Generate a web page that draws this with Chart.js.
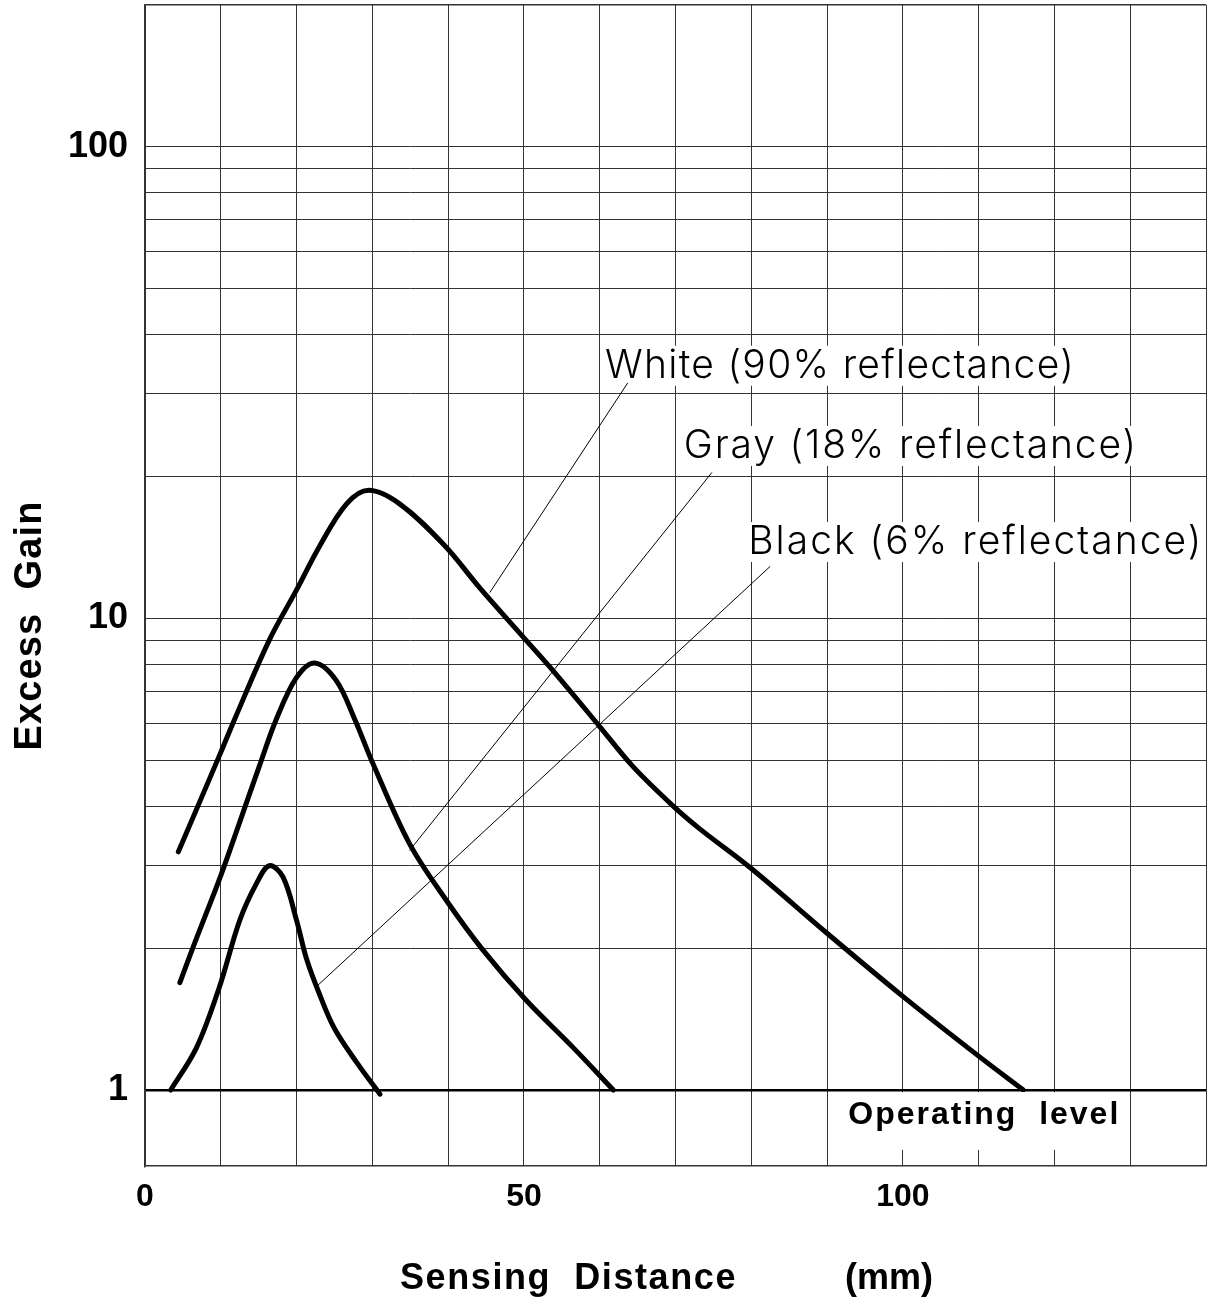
<!DOCTYPE html>
<html>
<head>
<meta charset="utf-8">
<script src="https://cdn.jsdelivr.net/npm/chart.js@4.4.0/dist/chart.umd.min.js"></script>
<style>
    html, body { margin: 0; padding: 0; background: #fff; }
    #wrap { width: 1213px; height: 1301px; position: relative; }
</style>
</head>
<body>
<div id="wrap"><canvas id="gainChart"></canvas></div>
<script>
// --- DATA ---

// White, 90% reflectance
const whiteDist = [4.4, 10, 11.8, 16.4, 20, 23, 26.6, 29.5, 33.6, 39.5, 44.2, 50, 54, 60, 64.4, 69.7, 73.2, 80, 90, 100, 110, 115.9];
const whiteGain = [3.2, 5.2, 6.1, 9.0, 11.5, 14.2, 17.5, 18.7, 17.5, 14.3, 11.6, 9.1, 7.7, 5.9, 4.85, 4.0, 3.58, 2.95, 2.15, 1.58, 1.18, 1.0];

// Gray, 18% reflectance
const grayDist = [4.6, 6.3, 10, 12.5, 15.1, 17.3, 20, 22.4, 25.2, 27.7, 29.9, 34.9, 39.8, 44.6, 50.3, 56.5, 61.8];
const grayGain = [1.69, 2.0, 2.85, 3.7, 4.87, 6.1, 7.5, 8.05, 7.4, 6.1, 5.0, 3.33, 2.52, 1.98, 1.55, 1.23, 1.0];

// Black, 6% reflectance
const blackDist = [3.4, 6.8, 9.8, 12.5, 14.7, 16.4, 18.2, 20.0, 21.3, 23.0, 25.0, 28.0, 31.0];
const blackGain = [1.0, 1.23, 1.65, 2.29, 2.74, 2.99, 2.83, 2.29, 1.9, 1.6, 1.35, 1.14, 0.98];

// axes
const xGrid = [0, 10, 20, 30, 40, 50, 60, 70, 80, 90, 100, 110, 120, 130, 140];
const xLabels = [0, 50, 100];
const yGrid = [1, 2, 3, 4, 5, 6, 7, 8, 9, 10, 20, 30, 40, 50, 60, 70, 80, 90, 100, 200];
const yLabels = [1, 10, 100];

// callouts: text, where the text sits, and the leader line (data units)
const calloutText = ['White (90% reflectance)', 'Gray (18% reflectance)', 'Black (6% reflectance)'];
const calloutDist = [60.7, 71.1, 79.6];
const calloutGain = [32.4, 21.9, 13.7];
const leaderFromDist = [63.7, 74.8, 82.5];
const leaderFromGain = [31.6, 20.4, 12.9];
const leaderToDist = [45.5, 34.9, 22.8];
const leaderToGain = [11.35, 3.22, 1.667];

// --- STYLE ---
const BOLD = '"Liberation Sans", Arial, sans-serif';
const THIN = 'Inter, "Noto Sans", sans-serif';
const calloutWidth = [470, 454, 455];

function toPoints(xs, ys) {
    return xs.map((v, i) => ({ x: v, y: ys[i] }));
}

function curve(xs, ys) {
    return {
        data: toPoints(xs, ys),
        borderColor: '#000',
        borderWidth: 5,
        borderCapStyle: 'round',
        borderJoinStyle: 'round',
        pointRadius: 0,
        tension: 0.35,
        fill: false
    };
}

// spread letters so the text covers a given width
function fitText(ctx, text, width) {
    ctx.letterSpacing = '0px';
    const w = ctx.measureText(text).width;
    ctx.letterSpacing = ((width - w) / text.length) + 'px';
}

const overlay = {
    id: 'overlay',
    afterDatasetsDraw(chart) {
        const { ctx, chartArea, scales: { x, y } } = chart;
        ctx.save();

        // callout labels
        ctx.font = '300 39px ' + THIN;
        ctx.textBaseline = 'alphabetic';
        ctx.textAlign = 'left';
        calloutText.forEach((t, i) => {
            const px = x.getPixelForValue(calloutDist[i]);
            const py = y.getPixelForValue(calloutGain[i]);
            fitText(ctx, t, calloutWidth[i]);
            ctx.fillStyle = '#fff';
            ctx.fillRect(px - 3, py - 32, calloutWidth[i] + 3, 40);
            ctx.fillStyle = '#000';
            ctx.fillText(t, px, py);
        });

        // leader lines
        ctx.strokeStyle = '#000';
        ctx.lineWidth = 1;
        calloutText.forEach((t, i) => {
            ctx.beginPath();
            ctx.moveTo(x.getPixelForValue(leaderFromDist[i]), y.getPixelForValue(leaderFromGain[i]));
            ctx.lineTo(x.getPixelForValue(leaderToDist[i]), y.getPixelForValue(leaderToGain[i]));
            ctx.stroke();
        });

        // operating level
        const opY = y.getPixelForValue(1);
        const opX = x.getPixelForValue(92.8);
        ctx.font = 'bold 32px ' + BOLD;
        fitText(ctx, 'Operating  level', 272);
        ctx.fillStyle = '#fff';
        ctx.fillRect(opX - 4, opY + 2, 280, 58);
        ctx.fillStyle = '#000';
        ctx.fillText('Operating  level', opX, opY + 34);

        // axis titles
        ctx.font = 'bold 36px ' + BOLD;
        fitText(ctx, 'Sensing  Distance', 337);
        ctx.fillText('Sensing  Distance', 400, 1289);
        fitText(ctx, '(mm)', 88);
        ctx.fillText('(mm)', 845, 1289);

        ctx.save();
        ctx.font = 'bold 38px ' + BOLD;
        fitText(ctx, 'Excess  Gain', 250);
        ctx.translate(41, (chartArea.top + chartArea.bottom) / 2 + 40);
        ctx.rotate(-Math.PI / 2);
        ctx.textAlign = 'center';
        ctx.fillText('Excess  Gain', 0, 0);
        ctx.restore();

        ctx.restore();
    }
};

const gridColor = '#333';

const gainChart = new Chart(document.getElementById('gainChart'), {
    type: 'line',
    data: {
        datasets: [
            curve(whiteDist, whiteGain),
            curve(grayDist, grayGain),
            curve(blackDist, blackGain)
        ]
    },
    options: {
        responsive: true,
        maintainAspectRatio: false,
        animation: false,
        events: [],
        layout: { autoPadding: false, padding: { top: 5, right: 7, left: 0, bottom: 0 } },
        plugins: {
            legend: { display: false },
            tooltip: { enabled: false }
        },
        scales: {
            x: {
                type: 'linear',
                min: 0,
                max: 140,
                afterBuildTicks: s => { s.ticks = xGrid.map(v => ({ value: v })); },
                afterFit: s => {
                    s.height = 135;
                    s.paddingLeft = 0; s.paddingRight = 0;
                },
                grid: { color: gridColor, lineWidth: 1, drawTicks: false },
                border: { color: '#333', width: 1.5 },
                ticks: {
                    autoSkip: false,
                    maxRotation: 0,
                    padding: 12,
                    color: '#000',
                    font: { family: BOLD, size: 32, weight: 'bold' },
                    callback: v => xLabels.includes(v) ? String(v) : ''
                }
            },
            y: {
                type: 'logarithmic',
                min: 0.69,
                max: 200,
                afterBuildTicks: s => { s.ticks = yGrid.map(v => ({ value: v })); },
                afterFit: s => {
                    s.width = 145;
                    s.paddingTop = 0; s.paddingBottom = 0;
                },
                grid: {
                    drawTicks: false,
                    color: c => c.tick && c.tick.value === 1 ? '#000' : gridColor,
                    lineWidth: c => c.tick && c.tick.value === 1 ? 2.5 : (c.tick && c.tick.value === 200 ? 1.5 : 1)
                },
                border: { color: '#333', width: 1.5 },
                ticks: {
                    autoSkip: false,
                    padding: 17,
                    color: '#000',
                    font: { family: BOLD, size: 36, weight: 'bold' },
                    callback: v => yLabels.includes(v) ? String(v) : ''
                }
            }
        }
    },
    plugins: [overlay]
});
</script>
</body>
</html>
